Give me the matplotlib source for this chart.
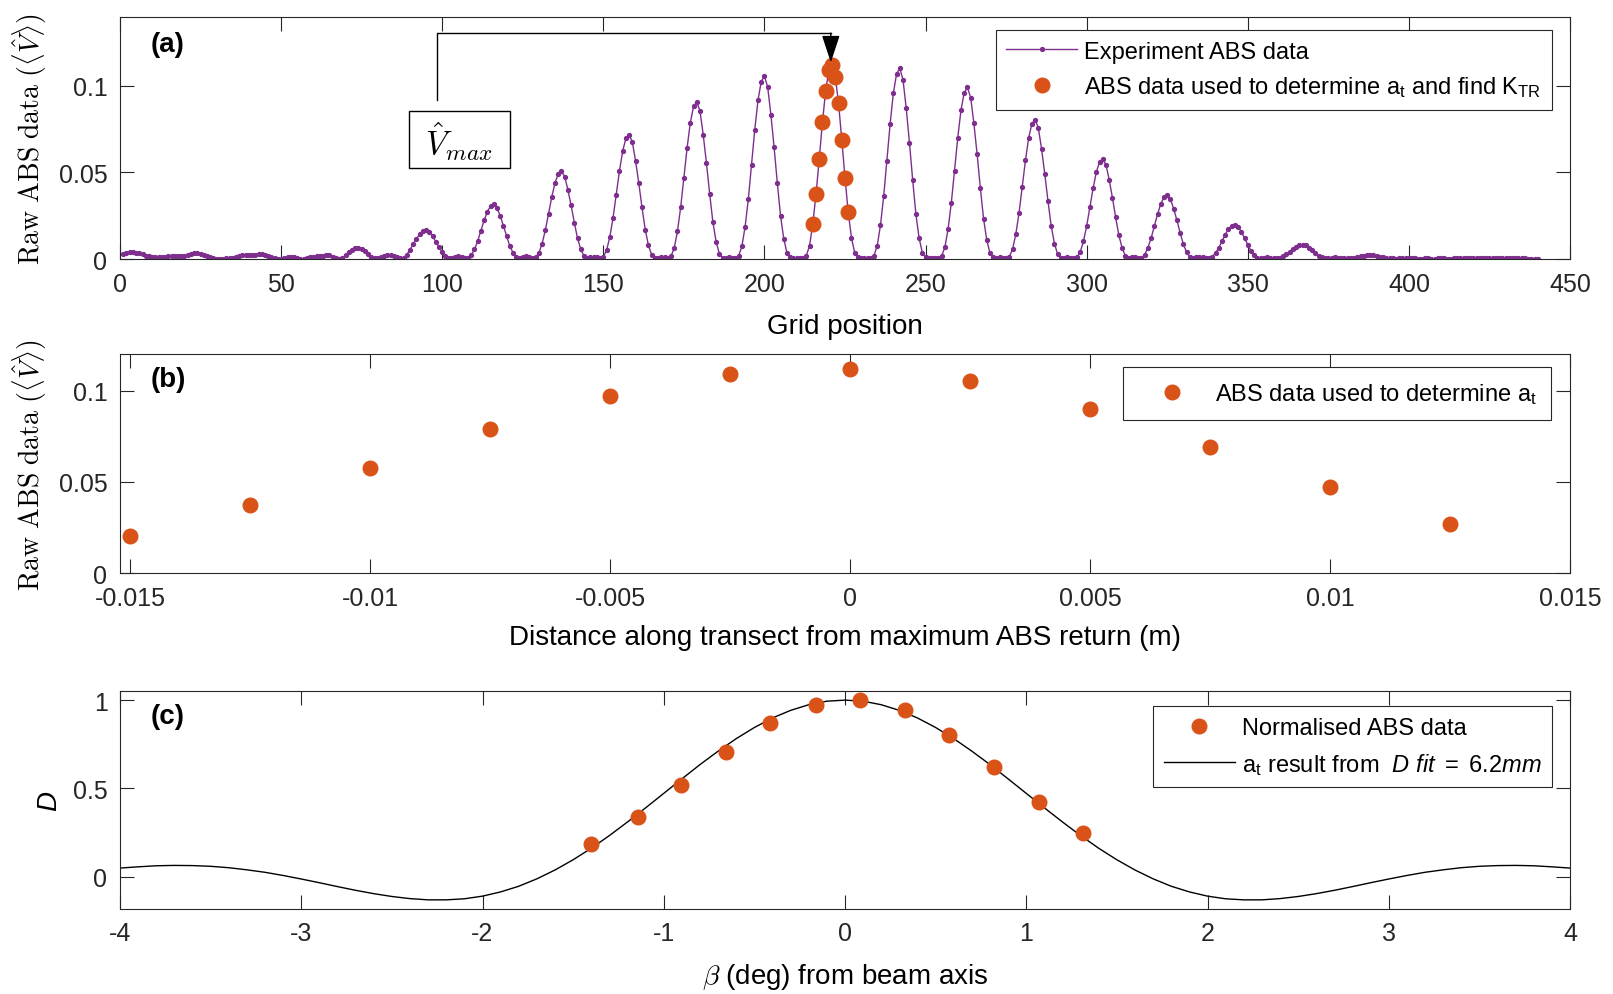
"""
Three-panel ABS beam-pattern figure:
(a) raw ABS transect, (b) points around the max, (c) normalised fit
"""

import matplotlib
matplotlib.use("Agg")
import matplotlib.pyplot as plt
import numpy as np
from matplotlib.patches import Rectangle

plt.rcParams["font.family"] = ["Liberation Sans", "DejaVu Sans"]
plt.rcParams["mathtext.fontset"] = "custom"
plt.rcParams["mathtext.rm"] = "Liberation Sans"
plt.rcParams["mathtext.it"] = "Liberation Sans:italic"
plt.rcParams["mathtext.bf"] = "Liberation Sans:bold"
plt.rcParams["axes.unicode_minus"] = False

PURPLE = "#7E2F8E"
ORANGE = "#D95319"
DARK = "#262626"

####################################
# Data
####################################

# (a) raw ABS return along the grid, one sample per grid position (1..440)
abs_head = [0.0027, 0.0034, 0.0038, 0.0039, 0.0037, 0.0032, 0.0026, 0.0020, 0.0015, 0.0012,
            0.0010, 0.0010, 0.0011, 0.0013, 0.0016, 0.0018, 0.0019, 0.0018, 0.0017, 0.0018,
            0.0024, 0.0031, 0.0035, 0.0035, 0.0031, 0.0024, 0.0016, 0.0009, 0.0004, 0.0002,
            0.0001, 0.0002, 0.0003, 0.0005, 0.0008, 0.0012, 0.0017, 0.0021, 0.0023, 0.0022,
            0.0021, 0.0023, 0.0028, 0.0029, 0.0025, 0.0018, 0.0010, 0.0004, 0.0001, 0.0002,
            0.0007, 0.0012, 0.0014, 0.0012, 0.0006, 0.0002, 0.0001, 0.0004, 0.0009, 0.0014,
            0.0018, 0.0020, 0.0020, 0.0023, 0.0021, 0.0014, 0.0006, 0.0002, 0.0008, 0.0021,
            0.0038, 0.0054, 0.0064, 0.0066, 0.0060, 0.0046, 0.0028, 0.0012, 0.0003, 0.0004,
            0.0012, 0.0019, 0.0022, 0.0023, 0.0020]
peak_095 = [0.0012, 0.0006, 0.0008, 0.0025, 0.0054, 0.0085, 0.0117, 0.0143, 0.0160, 0.0165,
            0.0155, 0.0130, 0.0101, 0.0068, 0.0039, 0.0018, 0.0005, 0.0006, 0.0013, 0.0017, 0.0012]
peak_116 = [0.0008, 0.0006, 0.0022, 0.0055, 0.0103, 0.0162, 0.0223, 0.0273, 0.0306, 0.0315,
            0.0296, 0.0249, 0.0192, 0.0131, 0.0074, 0.0035, 0.0010, 0.0005, 0.0012, 0.0016, 0.0011]
peak_137 = [0.0007, 0.0009, 0.0035, 0.0089, 0.0166, 0.0261, 0.0358, 0.0439, 0.0491, 0.0506,
            0.0476, 0.0400, 0.0309, 0.0210, 0.0119, 0.0056, 0.0017, 0.0005, 0.0010, 0.0014, 0.0009]
peak_158 = [0.0006, 0.0013, 0.0050, 0.0126, 0.0236, 0.0370, 0.0508, 0.0623, 0.0696, 0.0718,
            0.0675, 0.0567, 0.0438, 0.0298, 0.0169, 0.0079, 0.0024, 0.0007, 0.0008, 0.0012, 0.0009]
peak_179 = [0.0006, 0.0016, 0.0063, 0.0160, 0.0298, 0.0468, 0.0642, 0.0788, 0.0881, 0.0908,
            0.0854, 0.0717, 0.0554, 0.0377, 0.0213, 0.0100, 0.0030, 0.0008, 0.0005, 0.0009, 0.0007]
peak_200 = [0.0005, 0.0019, 0.0073, 0.0186, 0.0346, 0.0544, 0.0747, 0.0917, 0.1024, 0.1056,
            0.0993, 0.0834, 0.0644, 0.0438, 0.0248, 0.0116, 0.0035, 0.0010, 0.0005, 0.0008, 0.0006]
peak_221 = [0.0005, 0.0020, 0.0077, 0.0203, 0.0373, 0.0576, 0.0791, 0.0972, 0.1090, 0.1119,
            0.1051, 0.0898, 0.0689, 0.0469, 0.0271, 0.0123, 0.0037, 0.0010, 0.0005, 0.0007, 0.0005]
peak_242 = [0.0005, 0.0020, 0.0076, 0.0194, 0.0361, 0.0567, 0.0778, 0.0956, 0.1068, 0.1101,
            0.1035, 0.0870, 0.0672, 0.0457, 0.0259, 0.0121, 0.0036, 0.0010, 0.0005, 0.0007, 0.0006]
peak_263 = [0.0005, 0.0018, 0.0068, 0.0174, 0.0325, 0.0510, 0.0701, 0.0860, 0.0961, 0.0991,
            0.0932, 0.0783, 0.0605, 0.0411, 0.0233, 0.0109, 0.0033, 0.0009, 0.0006, 0.0009, 0.0007]
peak_284 = [0.0006, 0.0014, 0.0056, 0.0142, 0.0264, 0.0415, 0.0569, 0.0699, 0.0781, 0.0805,
            0.0757, 0.0636, 0.0491, 0.0334, 0.0189, 0.0089, 0.0027, 0.0008, 0.0008, 0.0011, 0.0008]
peak_305 = [0.0006, 0.0010, 0.0040, 0.0102, 0.0190, 0.0298, 0.0409, 0.0502, 0.0561, 0.0578,
            0.0543, 0.0457, 0.0353, 0.0240, 0.0136, 0.0064, 0.0019, 0.0006, 0.0010, 0.0012]
peak_325 = [0.0008, 0.0007, 0.0025, 0.0065, 0.0120, 0.0189, 0.0259, 0.0319, 0.0356, 0.0367,
            0.0345, 0.0290, 0.0224, 0.0152, 0.0086, 0.0040, 0.0012, 0.0005, 0.0010, 0.0013, 0.0009]
peak_346 = [0.0006, 0.0005, 0.0014, 0.0035, 0.0065, 0.0102, 0.0141, 0.0173, 0.0193, 0.0199,
            0.0187, 0.0157, 0.0121, 0.0083, 0.0047, 0.0022, 0.0007, 0.0004, 0.0008, 0.0011, 0.0008]
peak_367 = [0.0005, 0.0004, 0.0008, 0.0015, 0.0027, 0.0043, 0.0059, 0.0072, 0.0081, 0.0083,
            0.0078, 0.0066, 0.0051, 0.0034, 0.0020, 0.0009, 0.0004, 0.0003, 0.0006, 0.0009, 0.0007]
peak_388 = [0.0005, 0.0004, 0.0004, 0.0006, 0.0008, 0.0012, 0.0016, 0.0020, 0.0022, 0.0023,
            0.0022, 0.0018, 0.0014, 0.0010, 0.0006, 0.0004, 0.0003, 0.0002, 0.0003, 0.0004, 0.0004]
abs_tail = [0.0004, 0.0003, 0.0003, 0.0002, 0.0002, 0.0003, 0.0003, 0.0002, 0.0002, 0.0003, 0.0003,
            0.0003, 0.0002, 0.0002, 0.0003, 0.0004, 0.0005, 0.0006, 0.0007, 0.0007, 0.0008,
            0.0008, 0.0008, 0.0008, 0.0008, 0.0007, 0.0007, 0.0006, 0.0005, 0.0004, 0.0004,
            0.0003, 0.0003, 0.0004, 0.0004, 0.0003, 0.0003, 0.0002, 0.0002, 0.0002, 0.0002]

# points used to determine a_t (grid positions in (a), distance in (b))
sel_grid = [215, 216, 217, 218, 219, 220, 221, 222, 223, 224, 225, 226]
sel_dist = [-0.015, -0.0125, -0.01, -0.0075, -0.005, -0.0025,
            0.0, 0.0025, 0.005, 0.0075, 0.01, 0.0125]
sel_abs = [0.0203, 0.0373, 0.0576, 0.0791, 0.0972, 0.1090,
           0.1119, 0.1051, 0.0898, 0.0689, 0.0469, 0.0271]

# (c) normalised data vs beam angle, and fitted directivity (-4..4 deg, 0.1 deg steps)
norm_beta = [-1.40, -1.144, -0.906, -0.656, -0.412, -0.162,
             0.082, 0.332, 0.576, 0.821, 1.070, 1.314]
norm_abs = [0.186, 0.337, 0.517, 0.709, 0.872, 0.971,
            1.000, 0.942, 0.802, 0.622, 0.424, 0.250]
fit_D = [0.049, 0.056, 0.062, 0.064, 0.063, 0.059, 0.051, 0.039, 0.025, 0.007,
         -0.013, -0.034, -0.056, -0.077, -0.096, -0.112, -0.124, -0.131, -0.131, -0.125,
         -0.110, -0.086, -0.054, -0.012, 0.038, 0.096, 0.161, 0.233, 0.310, 0.390,
         0.472, 0.554, 0.635, 0.711, 0.782, 0.845, 0.899, 0.942, 0.974, 0.994,
         1.000,
         0.994, 0.974, 0.942, 0.899, 0.845, 0.782, 0.711, 0.635, 0.554, 0.472,
         0.390, 0.310, 0.233, 0.161, 0.096, 0.038, -0.012, -0.054, -0.086, -0.110,
         -0.125, -0.131, -0.131, -0.124, -0.112, -0.096, -0.077, -0.056, -0.034, -0.013,
         0.007, 0.025, 0.039, 0.051, 0.059, 0.063, 0.064, 0.062, 0.056, 0.049]
fit_beta = np.linspace(-4, 4, len(fit_D))

raw_abs = np.concatenate([abs_head, peak_095, peak_116, peak_137, peak_158, peak_179,
                          peak_200, peak_221, peak_242, peak_263, peak_284, peak_305,
                          peak_325, peak_346, peak_367, peak_388, abs_tail])
grid = np.arange(1, len(raw_abs) + 1)


def style_axes(ax):
    for s in ax.spines.values():
        s.set_linewidth(0.8)
        s.set_color(DARK)
    ax.tick_params(direction="in", top=True, right=True, length=10, width=0.8,
                   labelsize=18, color=DARK, labelcolor=DARK, pad=9)


def style_legend(leg):
    leg.get_frame().set_linewidth(0.8)


fig = plt.figure(figsize=(16.13, 9.95), dpi=100)
W, H = 1613.0, 995.0

ax1 = fig.add_axes([120 / W, 1 - 260 / H, 1450 / W, 242.5 / H])
ax2 = fig.add_axes([120 / W, 1 - 574 / H, 1450 / W, 219 / H])
ax3 = fig.add_axes([120 / W, 1 - 909.5 / H, 1450 / W, 217.2 / H])

ylab = r"$\mathrm{Raw\ ABS\ data}\ (\langle\hat{V}\rangle)$"
leg_kw = dict(loc="upper right", fontsize=17, frameon=True, fancybox=False,
              edgecolor=DARK, framealpha=1, borderaxespad=0, handlelength=3.0,
              handletextpad=0.3)

####################################
# (a)
####################################
style_axes(ax1)
ax1.plot(grid, raw_abs, "-o", color=PURPLE, lw=1.0, ms=2.8, label="Experiment ABS data")
ax1.plot(sel_grid, sel_abs, "o", color=ORANGE, ms=10.5, ls="none",
         label=r"ABS data used to determine a$_\mathregular{t}$ and find K$_\mathregular{TR}$")
ax1.set_xlim(0, 450)
ax1.set_ylim(0, 0.14)
ax1.set_xticks(np.arange(0, 451, 50))
ax1.set_yticks([0, 0.05, 0.1])
ax1.set_yticklabels(["0", "0.05", "0.1"])
ax1.set_xlabel("Grid position", fontsize=20)
ax1.xaxis.set_label_coords(0.5, -0.223)
ax1.set_ylabel(ylab, fontsize=20, math_fontfamily="cm")
ax1.yaxis.set_label_coords(-0.049, 0.5)
ax1.text(0.033, 0.887, "(a)", transform=ax1.transAxes, fontsize=20,
         fontweight="bold", ha="center", va="center")

# V_max marker: box, bracket line and arrow to the peak
ax1.add_patch(Rectangle((89.7, 0.0527), 31.2, 0.0325, fill=False, ec="black", lw=1.0))
ax1.text(105.3, 0.0680, r"$\hat{V}_{max}$", fontsize=24, math_fontfamily="cm",
         ha="center", va="center")
ax1.plot([98.5, 98.5, 220.6], [0.0917, 0.1304, 0.1304], color="black", lw=1.0)
ax1.annotate("", xy=(220.6, 0.1135), xytext=(220.6, 0.1304),
             arrowprops=dict(arrowstyle="-|>,head_length=0.85,head_width=0.28",
                             mutation_scale=20, color="black", lw=1.0,
                             shrinkA=0, shrinkB=0))

leg1 = ax1.legend(bbox_to_anchor=(0.9876, 0.944), labelspacing=0.5, borderpad=0.45, **leg_kw)
style_legend(leg1)

####################################
# (b)
####################################
style_axes(ax2)
ax2.plot(sel_dist, sel_abs, "o", color=ORANGE, ms=10.5, ls="none",
         label=r"ABS data used to determine a$_\mathregular{t}$")
ax2.set_xlim(-0.01521, 0.015)
ax2.set_ylim(0, 0.12)
ax2.set_xticks([-0.015, -0.01, -0.005, 0, 0.005, 0.01, 0.015])
ax2.set_xticklabels(["-0.015", "-0.01", "-0.005", "0", "0.005", "0.01", "0.015"])
ax2.set_yticks([0, 0.05, 0.1])
ax2.set_yticklabels(["0", "0.05", "0.1"])
ax2.set_xlabel("Distance along transect from maximum ABS return (m)", fontsize=20)
ax2.xaxis.set_label_coords(0.5, -0.235)
ax2.set_ylabel(ylab, fontsize=20, math_fontfamily="cm")
ax2.yaxis.set_label_coords(-0.049, 0.5)
ax2.text(0.033, 0.886, "(b)", transform=ax2.transAxes, fontsize=20,
         fontweight="bold", ha="center", va="center")
leg2 = ax2.legend(bbox_to_anchor=(0.9869, 0.9406), borderpad=0.6, **leg_kw)
style_legend(leg2)

####################################
# (c)
####################################
style_axes(ax3)
ax3.plot(norm_beta, norm_abs, "o", color=ORANGE, ms=10.5, ls="none",
         label="Normalised ABS data", zorder=3)
ax3.plot(fit_beta, fit_D, "-", color="black", lw=1.0,
         label=r"a$_\mathregular{t}$ result from  $\mathit{D\ fit\ {=}\ 6.2mm}$")
ax3.set_xlim(-4, 4)
ax3.set_ylim(-0.18, 1.05)
ax3.set_xticks(np.arange(-4, 5, 1))
ax3.set_yticks([0, 0.5, 1])
ax3.set_yticklabels(["0", "0.5", "1"])
ax3.set_xlabel(r"$\beta$ (deg) from beam axis", fontsize=20, math_fontfamily="cm")
ax3.xaxis.set_label_coords(0.5, -0.242)
ax3.set_ylabel("D", fontsize=20, fontstyle="italic")
ax3.yaxis.set_label_coords(-0.040, 0.5)
ax3.text(0.033, 0.886, "(c)", transform=ax3.transAxes, fontsize=20,
         fontweight="bold", ha="center", va="center")
leg3 = ax3.legend(bbox_to_anchor=(0.9876, 0.931), labelspacing=0.5, borderpad=0.45, **leg_kw)
style_legend(leg3)

fig.savefig("out.png", dpi=100)
